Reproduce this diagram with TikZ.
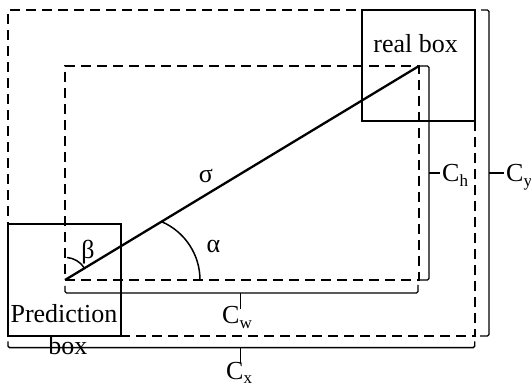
\documentclass[tikz,border=0pt]{standalone}
\usepackage{fontspec}
\setmainfont{Liberation Serif}
\newcommand{\lowsub}[2][-5pt]{\raisebox{#1}{\fontsize{17}{17}\selectfont #2}}
\begin{document}
\begin{tikzpicture}[x=1pt,y=-1pt,
  dashbox/.style={draw, line width=2.3pt, dash pattern=on 10pt off 6pt, inner sep=0pt, outer sep=0pt, anchor=north west},
  solidbox/.style={draw, line width=2.3pt, inner sep=0pt, outer sep=0pt, anchor=north west},
  bracketline/.style={draw, line width=1.4pt, rounded corners=1.5pt},
  thinarc/.style={draw, line width=1.5pt},
  lbl/.style={font=\fontsize{26}{30}\selectfont, inner sep=0pt}]
\useasboundingbox (0,0) rectangle (531,387);
% rectangles
\node[dashbox, minimum width=467pt, minimum height=326pt] (outer) at (8,10) {};
\node[dashbox, minimum width=354pt, minimum height=214pt] (inner) at (65,66) {};
\node[solidbox, minimum width=113pt, minimum height=111pt] (real) at (362,10) {};
\node[solidbox, minimum width=113pt, minimum height=112pt] (pred) at (8,224) {};
% diagonal
\draw[line width=2.3pt] (inner.south west) -- (inner.north east);
% angle arcs
\draw[thinarc] (200,280) arc[start angle=0, end angle=-66.6, radius=63.5];
\draw[thinarc] (67,257.5) arc[start angle=-85, end angle=-33, radius=23];
% brackets
\coordinate (hT) at (419,66);
\coordinate (hB) at (419,280);
\draw[bracketline] (hT) -- (429,66) -- (429,280) -- (hB);
\draw[bracketline] (429,173) -- (440,173);
\draw[bracketline] (481,10) -- (489,10) -- (489,336) -- (480,336);
\draw[bracketline] (489,173) -- (504,173);
\draw[bracketline] (65,286) -- (65,293) -- (418,293) -- (418,285);
\draw[bracketline] (240.7,293) -- (240.7,309);
\draw[bracketline] (8,341.5) -- (8,347.7) -- (474.7,347.7) -- (474.7,341.5);
\draw[bracketline] (240.7,347.7) -- (240.7,363);
% labels
\node[lbl, anchor=base] (realtxt) at (415.7,53) {real box};
\node[lbl, anchor=base] (predtxt) at (64,323) {Prediction};
\node[lbl, anchor=base] (predtxt2) at (68,355) {box};
\node[lbl] (sigma) at (206,176) {σ};
\node[lbl] (alpha) at (213.5,246.5) {α};
\node[lbl] (beta) at (88,252) {β};
\node[lbl, anchor=base west] (ch) at (442,182) {C\lowsub{h}};
\node[lbl, anchor=base west] (cy) at (506,182) {C\lowsub{y}};
\node[lbl, anchor=base west] (cw) at (222,324) {C\lowsub{w}};
\node[lbl, anchor=base west] (cx) at (226,380) {C\lowsub[-3.5pt]{x}};
\end{tikzpicture}
\end{document}
